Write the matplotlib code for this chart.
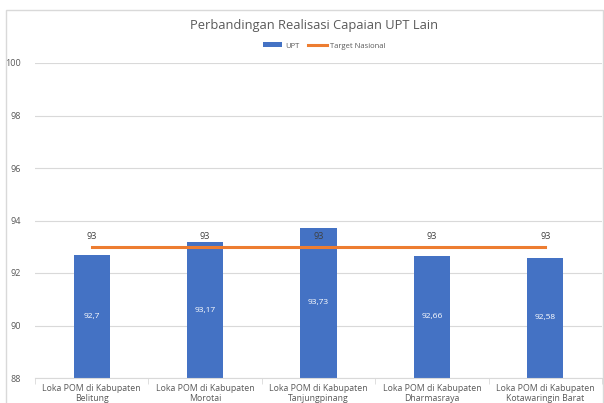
import matplotlib
matplotlib.use("Agg")
import matplotlib.pyplot as plt
from matplotlib.patches import Rectangle
import numpy as np

categories = ["Loka POM di Kabupaten\nBelitung", "Loka POM di Kabupaten\nMorotai",
              "Loka POM di Kabupaten\nTanjungpinang", "Loka POM di Kabupaten\nDharmasraya",
              "Loka POM di Kabupaten\nKotawaringin Barat"]
upt = [92.7, 93.17, 93.73, 92.66, 92.58]
upt_labels = ["92,7", "93,17", "93,73", "92,66", "92,58"]
target = [93, 93, 93, 93, 93]
yticks = [88, 90, 92, 94, 96, 98, 100]

plt.rcParams['font.family'] = ['Open Sans', 'DejaVu Sans']
fig = plt.figure(figsize=(6.04, 4.03), dpi=100)
fig.patches.append(Rectangle((6/604, -0.01), 597/604, 1 - 10/403 + 0.01, transform=fig.transFigure,
                             fill=False, edgecolor="#D9D9D9", linewidth=1))
ax = fig.add_axes([35/604, 1 - 378/403, 567/604, (378 - 63)/403])

x = np.arange(len(categories))
bars = ax.bar(x, [v - 88 for v in upt], bottom=88, width=0.32, color="#4472C4", zorder=2, label="UPT")
line, = ax.plot(x, target, color="#ED7D31", linewidth=2.2, zorder=3, label="Target Nasional")

for xi, v, lab in zip(x, upt, upt_labels):
    ax.text(xi, (88 + v) / 2, lab, ha="center", va="center", color="white", fontsize=6, zorder=4)
for xi, t in zip(x, target):
    ax.text(xi, t + 0.4, str(t), ha="center", va="center", color="#404040", fontsize=6.5, zorder=4)

ax.set_xlim(-0.5, len(categories) - 0.5)
ax.set_ylim(88, 100)
ax.set_yticks(yticks)
ax.set_yticklabels([str(t) for t in yticks], fontsize=6.5, color="#595959")
ax.set_xticks(x)
ax.set_xticklabels(categories, fontsize=6.3, color="#595959")
ax.tick_params(axis="x", length=0, pad=4)
ax.tick_params(axis="y", length=0, pad=10)
ax.set_xticks(np.arange(-0.5, len(categories), 1), minor=True)
ax.tick_params(axis="x", which="minor", length=4, color="#D9D9D9")
ax.grid(axis="y", color="#D9D9D9", linewidth=0.8, zorder=0)
for s in ["top", "right", "left"]:
    ax.spines[s].set_visible(False)
ax.spines["bottom"].set_color("#D9D9D9")

fig.text(0.5 + 12/604, 1 - 25/403, "Perbandingan Realisasi Capaian UPT Lain", ha="center", va="center",
         fontsize=9.3, color="#595959")
leg = ax.legend([bars, line], ["UPT", "Target Nasional"], loc="center",
                bbox_to_anchor=(0.51, 1 + (63 - 46) / 315), ncol=2, frameon=False,
                fontsize=5.5, handlelength=2.5, handleheight=0.6, columnspacing=1.2, handletextpad=0.3)
for t in leg.get_texts():
    t.set_color("#595959")

fig.savefig("out.png", dpi=100)
